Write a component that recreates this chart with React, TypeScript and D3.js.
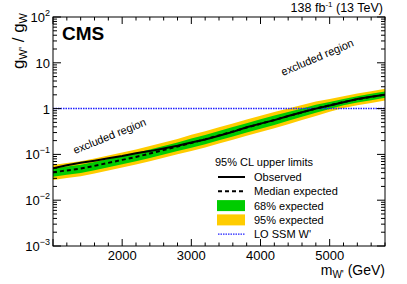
import * as d3 from 'd3';

const masses = [1000, 1200, 1400, 1600, 1800, 2000, 2200, 2400, 2600, 2800, 3000, 3200, 3400, 3600, 3800, 4000, 4200, 4400, 4600, 4800, 5000, 5200, 5400, 5600, 5800];
const observed = [0.05, 0.058, 0.066, 0.073, 0.082, 0.092, 0.106, 0.118, 0.135, 0.155, 0.182, 0.212, 0.255, 0.31, 0.39, 0.47, 0.56, 0.69, 0.83, 1.0, 1.17, 1.38, 1.62, 1.82, 2.0];
const expected = [0.0406, 0.0447, 0.049, 0.0562, 0.0653, 0.0759, 0.0881, 0.1045, 0.125, 0.149, 0.178, 0.213, 0.26, 0.316, 0.385, 0.466, 0.564, 0.684, 0.828, 1.005, 1.18, 1.39, 1.6, 1.8, 2.03];
const band68Lo = [0.0325, 0.0358, 0.0392, 0.045, 0.0522, 0.0607, 0.0705, 0.0836, 0.1, 0.119, 0.139, 0.166, 0.203, 0.246, 0.3, 0.363, 0.44, 0.54, 0.662, 0.814, 0.98, 1.18, 1.36, 1.53, 1.73];
const band68Hi = [0.0495, 0.0545, 0.0598, 0.0686, 0.0797, 0.0926, 0.1075, 0.1275, 0.153, 0.182, 0.222, 0.266, 0.325, 0.395, 0.481, 0.583, 0.705, 0.848, 1.01, 1.22, 1.4, 1.63, 1.87, 2.11, 2.37];
const band95Lo = [0.0276, 0.0304, 0.0333, 0.0382, 0.0444, 0.0516, 0.0599, 0.0711, 0.085, 0.101, 0.118, 0.141, 0.172, 0.209, 0.254, 0.308, 0.372, 0.458, 0.563, 0.693, 0.85, 1.03, 1.18, 1.33, 1.5];
const band95Hi = [0.0589, 0.0648, 0.0711, 0.0815, 0.0947, 0.11, 0.128, 0.152, 0.181, 0.216, 0.267, 0.32, 0.39, 0.474, 0.578, 0.699, 0.846, 1.01, 1.2, 1.43, 1.62, 1.85, 2.13, 2.39, 2.7];

const xTicks = [2000, 3000, 4000, 5000];
const yTicks = [1e-3, 1e-2, 1e-1, 1, 10, 100];
const yTickLabels = ['10', '10', '10', '1', '10', '10'];
const yTickExps = ['\u22123', '\u22122', '\u22121', '', '', '2'];

const W = 407;
const H = 284;
const L = 53;
const R = 385;
const T = 17;
const B = 246;
const font = 'Liberation Sans, Arial, Helvetica, sans-serif';

export default function App() {
  const x = d3.scaleLinear().domain([1000, 5800]).range([L, R]);
  const y = d3.scaleLog().domain([1e-3, 100]).range([B, T]);

  const area = (lo: number[], hi: number[]) =>
    d3
      .area<number>()
      .x((m) => x(m))
      .y0((_, i) => y(lo[i]))
      .y1((_, i) => y(hi[i]))(masses) ?? '';

  const line = (vals: number[]) =>
    d3
      .line<number>()
      .x((m) => x(m))
      .y((_, i) => y(vals[i]))(masses) ?? '';

  const xMinor = d3.range(1000, 5801, 200);
  const yMinor: number[] = [];
  for (let e = -3; e < 2; e++) {
    for (let k = 2; k < 10; k++) yMinor.push(k * Math.pow(10, e));
  }

  const legendX = 218;
  const legendItems = [
    { label: 'Observed', kind: 'obs' },
    { label: 'Median expected', kind: 'exp' },
    { label: '68% expected', kind: 'g' },
    { label: '95% expected', kind: 'y' },
    { label: "LO SSM W'", kind: 'ssm' },
  ];

  return (
    <svg width={W} height={H} style={{ position: 'absolute', left: 0, top: 0 }} fontFamily={font}>
      <rect width={W} height={H} fill="#fff" />
      <defs>
        <clipPath id="plot">
          <rect x={L} y={T} width={R - L} height={B - T} />
        </clipPath>
      </defs>
      <g clipPath="url(#plot)">
        <path d={area(band95Lo, band95Hi)} fill="#ffcc00" />
        <path d={area(band68Lo, band68Hi)} fill="#00cc00" />
        <line x1={L} x2={R} y1={y(1)} y2={y(1)} stroke="#2020ff" strokeWidth={1.5} strokeDasharray="1.5 1" />
        <path d={line(expected)} fill="none" stroke="#000" strokeWidth={2} strokeDasharray="4 3" />
        <path d={line(observed)} fill="none" stroke="#000" strokeWidth={2} />
      </g>

      {/* frame and ticks */}
      <rect x={L} y={T} width={R - L} height={B - T} fill="none" stroke="#000" strokeWidth={1} />
      {xMinor.map((m) => {
        const major = m % 1000 === 0;
        const len = major ? 7 : 3.5;
        return (
          <g key={m}>
            <line x1={x(m)} x2={x(m)} y1={B} y2={B - len} stroke="#000" />
            <line x1={x(m)} x2={x(m)} y1={T} y2={T + len} stroke="#000" />
          </g>
        );
      })}
      {yTicks.map((v) => (
        <g key={v}>
          <line x1={L} x2={L + 8} y1={y(v)} y2={y(v)} stroke="#000" />
          <line x1={R} x2={R - 8} y1={y(v)} y2={y(v)} stroke="#000" />
        </g>
      ))}
      {yMinor.map((v) => (
        <g key={v}>
          <line x1={L} x2={L + 4} y1={y(v)} y2={y(v)} stroke="#000" />
          <line x1={R} x2={R - 4} y1={y(v)} y2={y(v)} stroke="#000" />
        </g>
      ))}

      {xTicks.map((m) => (
        <text key={m} x={x(m)} y={260} fontSize={13} textAnchor="middle">
          {m}
        </text>
      ))}
      {yTicks.map((v, i) => (
        <text key={v} x={50} y={y(v) + 5} fontSize={13} textAnchor="end">
          {yTickLabels[i]}
          {yTickExps[i] && (
            <tspan fontSize={9} dy={-6}>
              {yTickExps[i]}
            </tspan>
          )}
        </text>
      ))}

      {/* axis titles */}
      <text x={385} y={275} fontSize={14} textAnchor="end">
        m<tspan fontSize={10} dy={3}>W'</tspan>
        <tspan dy={-3}> (GeV)</tspan>
      </text>
      <text transform="translate(24,13) rotate(-90)" fontSize={17} textAnchor="end">
        g<tspan fontSize={11} dy={3}>W'</tspan>
        <tspan dy={-3}> / g</tspan>
        <tspan fontSize={11} dy={3}>W</tspan>
      </text>

      <text x={62} y={40} fontSize={19} fontWeight="bold">
        CMS
      </text>
      <text x={383} y={12} fontSize={12.5} textAnchor="end">
        138 fb<tspan fontSize={8} dy={-5}>-1</tspan>
        <tspan dy={5}> (13 TeV)</tspan>
      </text>

      <text transform="translate(75,154) rotate(-22)" fontSize={11}>
        excluded region
      </text>
      <text transform="translate(283,76) rotate(-23)" fontSize={11}>
        excluded region
      </text>

      {/* legend */}
      <text x={215} y={166} fontSize={11}>
        95% CL upper limits
      </text>
      {legendItems.map((it, i) => {
        const cy = 177 + i * 14.3;
        return (
          <g key={it.label}>
            {it.kind === 'obs' && <line x1={legendX} x2={245} y1={cy} y2={cy} stroke="#000" strokeWidth={2} />}
            {it.kind === 'exp' && (
              <line x1={legendX} x2={245} y1={cy} y2={cy} stroke="#000" strokeWidth={2} strokeDasharray="4 3" />
            )}
            {it.kind === 'g' && <rect x={legendX - 1} y={cy - 5.5} width={28} height={11} fill="#00cc00" />}
            {it.kind === 'y' && <rect x={legendX - 1} y={cy - 5.5} width={28} height={11} fill="#ffcc00" />}
            {it.kind === 'ssm' && (
              <line x1={legendX} x2={245} y1={cy} y2={cy} stroke="#2020ff" strokeWidth={1.2} strokeDasharray="1.5 1" />
            )}
            <text x={254} y={cy + 4} fontSize={11}>
              {it.label}
            </text>
          </g>
        );
      })}
    </svg>
  );
}
